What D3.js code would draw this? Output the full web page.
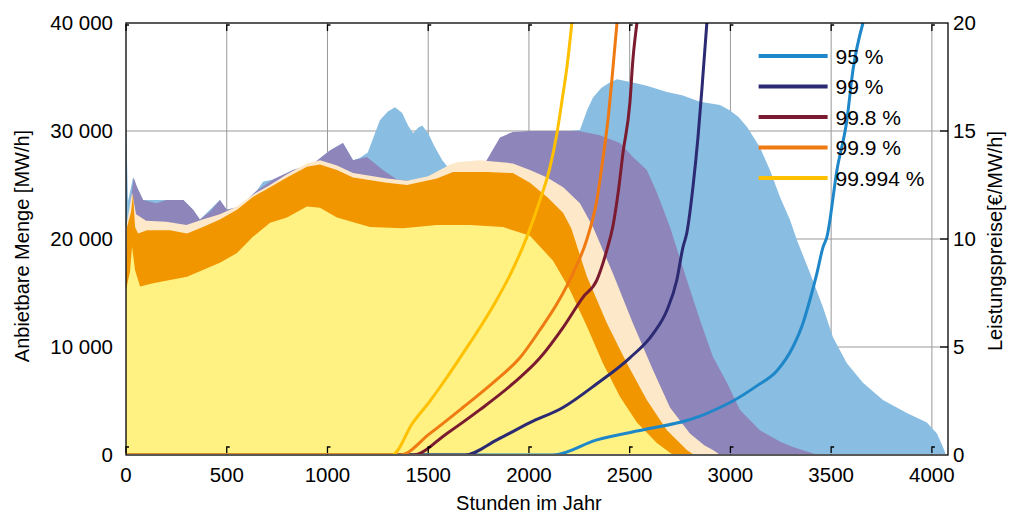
<!DOCTYPE html>
<html>
<head>
<meta charset="utf-8">
<script src="https://cdn.jsdelivr.net/npm/d3@7"></script>
<style>
  body { margin: 0; background: #fff; }
  text { font-family: "Liberation Sans", Arial, sans-serif; fill: #000; }
</style>
</head>
<body>
<div id="chart"></div>
<script>
// quantities per hour (left axis, MW/h), [hour, value]
const menge95 = [[0,31000],[10,23500],[35,25700],[55,24800],[85,23600],[200,23600],[285,23600],[333,22700],[367,21800],[466,23600],[500,22700],[566,23000],[650,24500],[680,25300],[730,25500],[830,26400],[930,27000],[1012,28200],[1077,28900],[1127,27300],[1160,27500],[1200,28000],[1230,29500],[1260,31000],[1300,31800],[1335,32200],[1370,31700],[1400,30500],[1425,29800],[1450,30300],[1470,30500],[1500,29800],[1530,28600],[1570,27300],[1600,26600],[1640,25800],[1700,25600],[1800,27000],[1900,29800],[2200,30000],[2253,30100],[2290,32000],[2318,33100],[2360,34000],[2402,34500],[2437,34800],[2516,34500],[2585,34200],[2685,33600],[2760,33300],[2849,32700],[2948,32400],[2998,31900],[3040,31300],[3082,30400],[3146,28500],[3196,26400],[3246,23900],[3295,21800],[3330,19900],[3395,16850],[3459,13700],[3509,10900],[3578,8500],[3658,6700],[3757,5100],[3876,3900],[3975,3000],[4025,2000],[4055,740],[4070,0]];
const menge99 = [[0,20000],[30,24500],[38,25700],[55,24800],[85,23600],[150,23300],[200,23600],[285,23600],[333,22700],[367,21800],[420,22600],[466,23600],[500,22700],[566,23000],[650,24500],[730,25500],[830,26400],[930,27000],[1012,28200],[1077,28900],[1127,27300],[1196,27600],[1275,26400],[1345,25500],[1450,25300],[1600,25400],[1700,25800],[1790,27300],[1856,29400],[1920,29900],[2000,30000],[2250,30000],[2352,29600],[2452,28900],[2516,27600],[2585,26400],[2635,24300],[2700,21100],[2784,16200],[2849,12500],[2913,9100],[2983,6700],[3047,4200],[3146,2300],[3250,1200],[3310,740],[3400,200],[3440,0]];
const menge998 = [[0,21000],[30,24300],[50,22300],[100,21700],[200,21600],[300,21300],[380,21800],[466,22300],[551,23000],[630,24100],[715,25000],[799,26000],[898,27000],[963,27300],[1047,26800],[1127,26100],[1295,25600],[1395,25400],[1500,25800],[1600,26800],[1643,27100],[1757,27300],[1920,27000],[2005,26400],[2090,25700],[2170,24800],[2253,23300],[2318,21100],[2417,16800],[2516,12200],[2615,7900],[2700,4400],[2799,2000],[2870,900],[2913,460],[2950,0]];
const menge999 = [[0,15500],[5,21100],[25,22500],[35,24200],[45,21100],[60,20500],[104,20800],[218,20800],[303,20500],[382,21100],[466,21800],[551,22700],[630,23900],[715,24800],[799,25700],[898,26700],[963,26900],[1047,26400],[1127,25700],[1295,25200],[1395,25000],[1543,25600],[1623,26200],[1792,26200],[1920,26100],[2005,25200],[2090,23900],[2170,22400],[2210,21000],[2288,16500],[2387,12200],[2486,8500],[2585,5100],[2685,2300],[2784,460],[2820,0]];
const menge99994 = [[0,15300],[20,17000],[30,19300],[45,17100],[70,15600],[134,15900],[303,16500],[466,17800],[551,18700],[630,20200],[715,21500],[799,22000],[898,23000],[963,22900],[1047,22000],[1211,21100],[1375,21000],[1543,21300],[1707,21300],[1871,21100],[1955,20600],[2005,20300],[2119,18000],[2203,15300],[2288,11900],[2367,8500],[2452,5400],[2536,3000],[2635,1100],[2700,200],[2720,0]];

// capacity prices (right axis, €/MW/h), [hour, value]
const preis95 = [[0,0],[2119,0],[2337,0.7],[2585,1.2],[2784,1.6],[2849,1.8],[2948,2.2],[3012,2.5],[3131,3.2],[3231,3.9],[3310,5.0],[3360,6.1],[3395,7.2],[3429,8.4],[3459,9.6],[3479,10.1],[3529,13.2],[3578,15.5],[3608,17.8],[3658,20]];
const preis99 = [[0,0],[1682,0],[1841,0.7],[2005,1.5],[2169,2.2],[2337,3.3],[2501,4.5],[2615,5.6],[2685,6.7],[2734,8.1],[2764,9.6],[2784,10.3],[2814,12.4],[2839,14.7],[2859,17],[2883,20]];
const preis998 = [[0,0],[1424,0],[1593,1.0],[1757,2.1],[1920,3.3],[2055,4.5],[2169,5.9],[2268,7.3],[2337,8.1],[2387,9.5],[2417,10.6],[2445,12.3],[2467,14],[2501,16.3],[2516,18.3],[2536,20]];
const preis999 = [[0,0],[1360,0],[1509,1.0],[1672,2.2],[1841,3.5],[1955,4.5],[2055,5.8],[2139,7.0],[2218,8.4],[2288,10.0],[2337,11.8],[2367,13.7],[2392,15.5],[2412,17.4],[2437,20]];
const preis99994 = [[0,0],[1320,0],[1424,1.5],[1509,2.5],[1593,3.6],[1672,4.7],[1757,5.9],[1841,7.2],[1920,8.6],[1990,10.1],[2055,11.8],[2104,13.3],[2139,14.9],[2164,16.4],[2189,18],[2213,20]];

const seriesNames = ["95 %", "99 %", "99.8 %", "99.9 %", "99.994 %"];
const xTicks = [0, 500, 1000, 1500, 2000, 2500, 3000, 3500, 4000];
const yTicks = [0, 10000, 20000, 30000, 40000];
const y2Ticks = [0, 5, 10, 15, 20];

const mengen = [menge95, menge99, menge998, menge999, menge99994];
const preise = [preis95, preis99, preis998, preis999, preis99994];
const areaColors = ["#89bde2", "#8e86bb", "#fde8c9", "#f29600", "#fff283"];
const lineColors = ["#1d87c9", "#2b2a72", "#7b1b30", "#f07a12", "#ffc000"];

const margin = {top: 23, right: 62, bottom: 58, left: 126};
const width = 1010 - margin.left - margin.right;
const height = 513 - margin.top - margin.bottom;

const svg = d3.select("#chart")
  .append("svg")
  .attr("width", 1010)
  .attr("height", 513)
  .append("g")
  .attr("transform", `translate(${margin.left},${margin.top})`);

const x = d3.scaleLinear().domain([0, 4080]).range([0, width]);
const y = d3.scaleLinear().domain([0, 40000]).range([height, 0]);
const y2 = d3.scaleLinear().domain([0, 20]).range([height, 0]);

// grid
svg.append("g")
  .selectAll("line")
  .data(xTicks.slice(1))
  .join("line")
  .attr("x1", d => x(d)).attr("x2", d => x(d))
  .attr("y1", 0).attr("y2", height)
  .attr("stroke", "#999").attr("stroke-width", 1);
svg.append("g")
  .selectAll("line")
  .data(yTicks.slice(1, -1))
  .join("line")
  .attr("x1", 0).attr("x2", width)
  .attr("y1", d => y(d)).attr("y2", d => y(d))
  .attr("stroke", "#999").attr("stroke-width", 1);

svg.append("clipPath").attr("id", "clip")
  .append("rect").attr("y", -2).attr("width", width).attr("height", height + 1);

const plot = svg.append("g").attr("clip-path", "url(#clip)");

// areas
const area = d3.area()
  .x(d => x(d[0]))
  .y0(y(0))
  .y1(d => y(d[1]));

plot.selectAll("path.area")
  .data(mengen)
  .join("path")
  .attr("class", "area")
  .attr("d", area)
  .attr("fill", (d, i) => areaColors[i]);

// price lines
const line = d3.line()
  .x(d => x(d[0]))
  .y(d => y2(d[1]))
  .curve(d3.curveMonotoneX);

plot.selectAll("path.preis")
  .data(preise)
  .join("path")
  .attr("class", "preis")
  .attr("d", line)
  .attr("fill", "none")
  .attr("stroke", (d, i) => lineColors[i])
  .attr("stroke-width", 3);

// frame
svg.append("rect")
  .attr("width", width).attr("height", height)
  .attr("fill", "none").attr("stroke", "#000").attr("stroke-width", 1.3);

// inward tick marks
const tickG = svg.append("g").attr("stroke", "#000").attr("stroke-width", 1.3).attr("fill", "none");
xTicks.forEach(t => {
  const px = x(t);
  tickG.append("path").attr("d", `M${px + 3},2 H${px} V8`);
  tickG.append("path").attr("d", `M${px + 3},${height - 8} H${px} V${height - 2}`);
});
y2Ticks.slice(1, -1).forEach(t => {
  tickG.append("path").attr("d", `M${width - 8},${y2(t)} H${width}`);
});

// x tick labels
svg.append("g")
  .selectAll("text")
  .data(xTicks)
  .join("text")
  .attr("x", d => x(d))
  .attr("y", height + 27)
  .attr("text-anchor", "middle")
  .attr("font-size", "20.5px")
  .text(d => d);

// left tick labels
const fmt = d => d === 0 ? "0" : d3.format(",")(d).replace(",", " ");
svg.append("g")
  .selectAll("text")
  .data(yTicks)
  .join("text")
  .attr("x", -13)
  .attr("y", d => y(d))
  .attr("dy", "0.36em")
  .attr("text-anchor", "end")
  .attr("font-size", "20.5px")
  .text(fmt);

// right tick labels
svg.append("g")
  .selectAll("text")
  .data(y2Ticks)
  .join("text")
  .attr("x", width + 5)
  .attr("y", d => y2(d))
  .attr("dy", "0.36em")
  .attr("font-size", "20.5px")
  .text(d => d);

// axis titles
svg.append("text")
  .attr("x", x(2000))
  .attr("y", height + 55)
  .attr("text-anchor", "middle")
  .attr("font-size", "20px")
  .text("Stunden im Jahr");

svg.append("text")
  .attr("transform", "rotate(-90)")
  .attr("x", -height / 2 - 7)
  .attr("y", 29 - margin.left)
  .attr("text-anchor", "middle")
  .attr("font-size", "20px")
  .text("Anbietbare Menge [MW/h]");

svg.append("text")
  .attr("transform", "rotate(-90)")
  .attr("x", -height / 2 - 2)
  .attr("y", width + 54)
  .attr("text-anchor", "middle")
  .attr("font-size", "20px")
  .text("Leistungspreise[€/MW/h]");

// legend
const legend = svg.append("g").attr("transform", `translate(${x(3140)},${33})`);
seriesNames.forEach((name, i) => {
  legend.append("line")
    .attr("x1", 0).attr("x2", 69)
    .attr("y1", i * 30.5).attr("y2", i * 30.5)
    .attr("stroke", lineColors[i]).attr("stroke-width", 4);
  legend.append("text")
    .attr("x", 77)
    .attr("y", i * 30.5)
    .attr("dy", "0.36em")
    .attr("font-size", "21px")
    .text(name);
});
</script>
</body>
</html>
